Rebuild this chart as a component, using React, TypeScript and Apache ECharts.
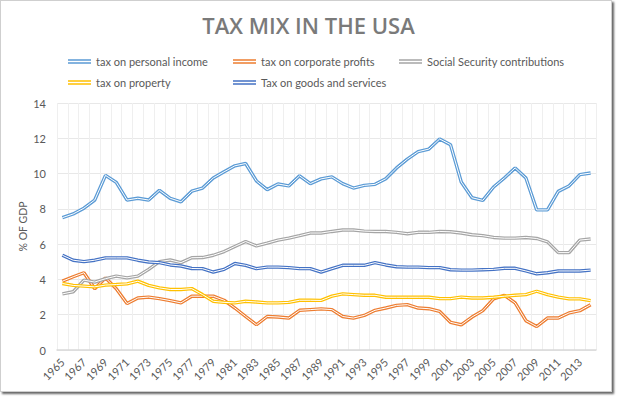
import React, { useEffect, useRef } from "react";
import * as echarts from "echarts";

const years: string[] = [];
for (let y = 1965; y <= 2014; y++) years.push(String(y));

const personalIncome = [7.5, 7.71, 8.04, 8.5, 9.9, 9.5, 8.5, 8.6, 8.5, 9.05,
  8.6, 8.4, 9.0, 9.18, 9.75, 10.1, 10.44, 10.57, 9.58, 9.09,
  9.41, 9.3, 9.87, 9.43, 9.7, 9.81, 9.43, 9.18, 9.33, 9.39,
  9.71, 10.32, 10.82, 11.24, 11.39, 11.96, 11.64, 9.52, 8.63, 8.48,
  9.24, 9.75, 10.32, 9.75, 7.94, 7.94, 8.99, 9.3, 9.94, 10.03];
const corporateProfits = [3.9, 4.15, 4.38, 3.47, 4.09, 3.47, 2.63, 2.95, 3.0, 2.91,
  2.8, 2.67, 3.05, 3.05, 3.05, 2.82, 2.38, 1.9, 1.43, 1.9,
  1.87, 1.81, 2.25, 2.29, 2.33, 2.29, 1.9, 1.81, 1.96, 2.25,
  2.38, 2.53, 2.57, 2.38, 2.34, 2.19, 1.57, 1.43, 1.87, 2.23,
  2.9, 3.1, 2.67, 1.66, 1.33, 1.81, 1.81, 2.1, 2.23, 2.57];
const socialSecurity = [3.18, 3.3, 3.96, 3.85, 4.04, 4.19, 4.09, 4.19, 4.57, 5.01,
  5.1, 4.95, 5.23, 5.24, 5.37, 5.58, 5.87, 6.15, 5.9, 6.06,
  6.23, 6.34, 6.48, 6.63, 6.63, 6.72, 6.8, 6.8, 6.74, 6.72,
  6.72, 6.67, 6.59, 6.67, 6.67, 6.72, 6.7, 6.63, 6.53, 6.48,
  6.38, 6.34, 6.34, 6.38, 6.32, 6.13, 5.52, 5.52, 6.23, 6.29];
const property = [3.77, 3.66, 3.62, 3.58, 3.68, 3.71, 3.75, 3.9, 3.66, 3.52,
  3.43, 3.43, 3.48, 3.14, 2.76, 2.7, 2.67, 2.76, 2.72, 2.67,
  2.67, 2.7, 2.82, 2.82, 2.81, 3.05, 3.18, 3.14, 3.1, 3.1,
  2.99, 2.99, 2.99, 2.99, 2.99, 2.91, 2.91, 3.0, 2.95, 2.95,
  2.99, 3.05, 3.1, 3.14, 3.33, 3.14, 3.0, 2.9, 2.9, 2.8];
const goodsServices = [5.37, 5.09, 5.01, 5.09, 5.22, 5.22, 5.22, 5.09, 4.99, 4.95,
  4.82, 4.76, 4.62, 4.61, 4.42, 4.57, 4.9, 4.8, 4.61, 4.7,
  4.7, 4.67, 4.61, 4.61, 4.42, 4.61, 4.8, 4.8, 4.8, 4.95,
  4.82, 4.72, 4.7, 4.7, 4.67, 4.67, 4.55, 4.53, 4.53, 4.55,
  4.57, 4.63, 4.63, 4.48, 4.32, 4.38, 4.48, 4.48, 4.48, 4.53];

const seriesNames = [
  "tax on personal income",
  "tax on corporate profits",
  "Social Security contributions",
  "tax on property",
  "Tax on goods and services",
];
const seriesColors = ["#5B9BD5", "#ED7D31", "#A5A5A5", "#FFC000", "#4472C4"];
const seriesData = [personalIncome, corporateProfits, socialSecurity, property, goodsServices];
const legendPos = [
  { left: 63, top: 51 },
  { left: 228, top: 51 },
  { left: 394, top: 51 },
  { left: 63, top: 72 },
  { left: 228, top: 72 },
];

const FONT = "Lato, 'Open Sans', sans-serif";
const TXT = "#595959";

export default function App() {
  const ref = useRef<HTMLDivElement>(null);
  useEffect(() => {
    if (!ref.current) return;
    const chart = echarts.init(ref.current, undefined, { renderer: "svg" });
    const series: any[] = [];
    seriesNames.forEach((name, i) => {
      series.push({
        name,
        type: "line",
        data: seriesData[i],
        showSymbol: false,
        symbol: "none",
        lineStyle: { color: seriesColors[i], width: 3.4 },
        itemStyle: { color: seriesColors[i] },
        z: 2 + i * 2,
      });
      series.push({
        name: name + "_inner",
        type: "line",
        data: seriesData[i],
        showSymbol: false,
        symbol: "none",
        lineStyle: { color: "#ffffff", width: 1 },
        itemStyle: { color: "#ffffff" },
        z: 3 + i * 2,
        silent: true,
      });
    });
    const icon = "path://M0,0H30V2H0Z M0,4H30V6H0Z";
    chart.setOption({
      animation: false,
      backgroundColor: "transparent",
      title: {
        text: "TAX MIX IN THE USA",
        left: "center",
        top: 9,
        textStyle: { fontFamily: "'Open Sans', sans-serif", fontSize: 22, fontWeight: 600, color: "#7a7a7a" },
      },
      legend: seriesNames.map((n, i) => ({
        data: [n],
        left: legendPos[i].left,
        top: legendPos[i].top,
        icon,
        itemWidth: 23,
        itemHeight: 5,
        itemGap: 5,
        textStyle: { fontFamily: FONT, fontSize: 11, color: TXT },
        selectedMode: false,
      })),
      grid: { left: 57, right: 21, top: 103, bottom: 47 },
      xAxis: {
        type: "category",
        data: years,
        boundaryGap: true,
        axisLine: { lineStyle: { color: "#d9d9d9", width: 1.5 } },
        axisTick: { show: false },
        axisLabel: { interval: 1, rotate: 45, fontFamily: FONT, fontSize: 11, color: TXT, margin: 10 },
        splitLine: { show: true, interval: 0, lineStyle: { color: "#efefef", width: 1 } },
      },
      yAxis: {
        type: "value",
        min: 0,
        max: 14,
        interval: 2,
        name: "% OF GDP",
        nameLocation: "middle",
        nameRotate: 90,
        nameGap: 29,
        nameMoveOverlap: false,
        nameTextStyle: { fontFamily: FONT, fontSize: 10.5, color: TXT },
        axisLine: { show: false },
        axisTick: { show: false },
        axisLabel: { fontFamily: FONT, fontSize: 11, color: TXT, margin: 11 },
        splitLine: { lineStyle: { color: "#e8e8e8", width: 1 } },
      },
      series,
    });
    return () => chart.dispose();
  }, []);
  return (
    <div style={{ position: "absolute", left: 0, top: 0, width: 617, height: 397, background: "#fff" }}>
      <div
        style={{
          position: "absolute",
          left: 0,
          top: 0,
          width: 610,
          height: 390,
          border: "1px solid #cfcfcf",
          boxShadow: "2px 2px 2px rgba(0,0,0,0.6)",
          background: "#fff",
        }}
      />
      <div ref={ref} style={{ position: "absolute", left: 0, top: 0, width: 617, height: 397 }} />
    </div>
  );
}
